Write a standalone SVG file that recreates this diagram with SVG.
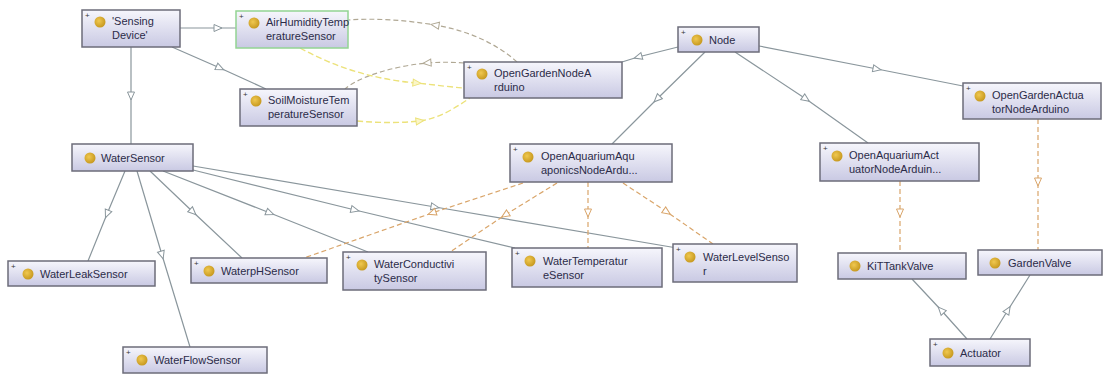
<svg xmlns="http://www.w3.org/2000/svg" width="1108" height="376" viewBox="0 0 1108 376">
<defs>
<linearGradient id="boxg" x1="0" y1="0" x2="0" y2="1">
<stop offset="0" stop-color="#f6f6fc"/>
<stop offset="1" stop-color="#c9c9e3"/>
</linearGradient>
<radialGradient id="dotg" cx="0.4" cy="0.4" r="0.6">
<stop offset="0" stop-color="#f0c850"/>
<stop offset="1" stop-color="#c89a20"/>
</radialGradient>
<marker id="tg" markerUnits="userSpaceOnUse" markerWidth="12" markerHeight="12" viewBox="-1 -6 12 12" refX="4" refY="0" orient="auto">
<path d="M0,-3.5 L8,0 L0,3.5 Z" fill="#fff" stroke="#8a969c" stroke-width="1"/>
</marker>
<marker id="to" markerUnits="userSpaceOnUse" markerWidth="12" markerHeight="12" viewBox="-1 -6 12 12" refX="4" refY="0" orient="auto">
<path d="M0,-3.5 L8,0 L0,3.5 Z" fill="#fff" stroke="#d9a56a" stroke-width="1"/>
</marker>
<marker id="tt" markerUnits="userSpaceOnUse" markerWidth="12" markerHeight="12" viewBox="-1 -6 12 12" refX="4" refY="0" orient="auto">
<path d="M0,-3.5 L8,0 L0,3.5 Z" fill="#fff" stroke="#b0a894" stroke-width="1"/>
</marker>
<marker id="ty" markerUnits="userSpaceOnUse" markerWidth="12" markerHeight="12" viewBox="-1 -6 12 12" refX="4" refY="0" orient="auto">
<path d="M0,-3.5 L8,0 L0,3.5 Z" fill="#fbf6c8" stroke="#ece27a" stroke-width="1"/>
</marker>
</defs>
<style>
.box{fill:url(#boxg);stroke:#6c6c7a;stroke-width:1.5}
.green{stroke:#93d493}
.dot{fill:url(#dotg)}
.lbl{font-family:"Liberation Sans",Arial,sans-serif;font-size:11px;fill:#2b2b48}
.pl{font-family:"Liberation Sans",Arial,sans-serif;font-size:8px;fill:#333}
.sub{fill:none;stroke:#8a969c;stroke-width:1.2;marker-mid:url(#tg)}
.obj{fill:none;stroke:#d9a56a;stroke-width:1.2;stroke-dasharray:5 3;marker-mid:url(#to)}
.tan{fill:none;stroke:#b0a894;stroke-width:1.2;stroke-dasharray:5 3;marker-mid:url(#tt)}
.yel{fill:none;stroke:#ece27a;stroke-width:1.4;stroke-dasharray:6 3;marker-mid:url(#ty)}
</style>
<rect width="1108" height="376" fill="#fff"/>
<g id="connectors">
<path class="sub" d="M180,28 L218,28 L236,28"/>
<path class="sub" d="M172,47 L220,68 L266,89"/>
<path class="sub" d="M131,47 L131,96 L131,144"/>
<path class="sub" d="M125,171 L107,214 L88,261"/>
<path class="sub" d="M137,171 L162,255 L190,347"/>
<path class="sub" d="M150,171 L193,212 L242,258"/>
<path class="sub" d="M163,171 L270,213 L368,252"/>
<path class="sub" d="M193,170 L355,210 L515,248"/>
<path class="sub" d="M193,166 L435,207 L677,248"/>
<path class="sub" d="M678,47 L638,57 L622,62"/>
<path class="sub" d="M705,52 L657,99 L612,144"/>
<path class="sub" d="M735,52 L806,99 L868,143"/>
<path class="sub" d="M759,46 L877,69 L963,86"/>
<path class="sub" d="M967,339 L941,310 L912,279"/>
<path class="sub" d="M990,339 L1008,310 L1030,275"/>
<path class="obj" d="M1038,119 L1038,182 L1038,250"/>
<path class="obj" d="M900,181 L900,213 L900,253"/>
<path class="obj" d="M523,183 L432,213 L304,258"/>
<path class="obj" d="M557,183 L505,215 L450,252"/>
<path class="obj" d="M588,182 L588,213 L588,248"/>
<path class="obj" d="M623,183 L667,212 L713,244"/>
<path class="tan" d="M517,62 C495,42 465,30 435,25 C405,20 375,18 348,20"/>
<path class="tan" d="M464,63 C450,62 440,62 427,63 C395,66 360,76 345,89"/>
<path class="yel" d="M300,48 C340,70 380,80 417,83 C435,85 450,87 464,88"/>
<path class="yel" d="M357,121 C380,123 400,123 420,121 C440,118 455,108 470,98"/>
</g>
<g id="n-sensing-device">
<rect class="box" x="82" y="10" width="98" height="37"/>
<text class="pl" x="85" y="18">+</text>
<circle class="dot" cx="100" cy="22" r="5.5"/>
<text class="lbl" x="112" y="25">'Sensing</text>
<text class="lbl" x="112" y="39">Device'</text>
</g>
<g id="n-airhumidity">
<rect class="box green" x="236" y="11" width="112" height="37"/>
<text class="pl" x="239" y="19">+</text>
<circle class="dot" cx="254" cy="23" r="5.5"/>
<text class="lbl" x="266" y="26">AirHumidityTemp</text>
<text class="lbl" x="266" y="40">eratureSensor</text>
</g>
<g id="n-soilmoisture">
<rect class="box" x="240" y="89" width="117" height="37"/>
<text class="pl" x="243" y="97">+</text>
<circle class="dot" cx="256" cy="101" r="5.5"/>
<text class="lbl" x="268" y="104">SoilMoistureTem</text>
<text class="lbl" x="268" y="118">peratureSensor</text>
</g>
<g id="n-opengardennode">
<rect class="box" x="464" y="62" width="158" height="36"/>
<text class="pl" x="467" y="70">+</text>
<circle class="dot" cx="482" cy="74" r="5.5"/>
<text class="lbl" x="494" y="77">OpenGardenNodeA</text>
<text class="lbl" x="494" y="91">rduino</text>
</g>
<g id="n-node">
<rect class="box" x="678" y="27" width="81" height="25"/>
<text class="pl" x="681" y="35">+</text>
<circle class="dot" cx="697" cy="40" r="5.5"/>
<text class="lbl" x="709" y="44">Node</text>
</g>
<g id="n-opengardenactuator">
<rect class="box" x="963" y="83" width="138" height="36"/>
<text class="pl" x="966" y="91">+</text>
<circle class="dot" cx="980" cy="96" r="5.5"/>
<text class="lbl" x="992" y="99">OpenGardenActua</text>
<text class="lbl" x="992" y="113">torNodeArduino</text>
</g>
<g id="n-watersensor">
<rect class="box" x="72" y="144" width="121" height="27"/>
<circle class="dot" cx="90" cy="158" r="5.5"/>
<text class="lbl" x="101" y="162">WaterSensor</text>
</g>
<g id="n-aquaponics">
<rect class="box" x="510" y="144" width="162" height="38"/>
<text class="pl" x="513" y="152">+</text>
<circle class="dot" cx="528" cy="157" r="5.5"/>
<text class="lbl" x="541" y="160">OpenAquariumAqu</text>
<text class="lbl" x="541" y="174">aponicsNodeArdu...</text>
</g>
<g id="n-aquariumactuator">
<rect class="box" x="820" y="143" width="159" height="38"/>
<text class="pl" x="823" y="151">+</text>
<circle class="dot" cx="837" cy="156" r="5.5"/>
<text class="lbl" x="849" y="159">OpenAquariumAct</text>
<text class="lbl" x="849" y="173">uatorNodeArduin...</text>
</g>
<g id="n-waterleak">
<rect class="box" x="8" y="261" width="147" height="25"/>
<text class="pl" x="11" y="269">+</text>
<circle class="dot" cx="28" cy="274" r="5.5"/>
<text class="lbl" x="40" y="278">WaterLeakSensor</text>
</g>
<g id="n-waterph">
<rect class="box" x="191" y="258" width="136" height="25"/>
<text class="pl" x="194" y="266">+</text>
<circle class="dot" cx="209" cy="271" r="5.5"/>
<text class="lbl" x="221" y="275">WaterpHSensor</text>
</g>
<g id="n-waterconductivity">
<rect class="box" x="343" y="252" width="143" height="38"/>
<text class="pl" x="346" y="260">+</text>
<circle class="dot" cx="362" cy="265" r="5.5"/>
<text class="lbl" x="374" y="268">WaterConductivi</text>
<text class="lbl" x="374" y="282">tySensor</text>
</g>
<g id="n-watertemperature">
<rect class="box" x="512" y="248" width="150" height="39"/>
<text class="pl" x="515" y="256">+</text>
<circle class="dot" cx="530" cy="261" r="5.5"/>
<text class="lbl" x="543" y="265">WaterTemperatur</text>
<text class="lbl" x="543" y="279">eSensor</text>
</g>
<g id="n-waterlevel">
<rect class="box" x="673" y="244" width="124" height="38"/>
<text class="pl" x="676" y="252">+</text>
<circle class="dot" cx="690" cy="257" r="5.5"/>
<text class="lbl" x="703" y="261">WaterLevelSenso</text>
<text class="lbl" x="703" y="275">r</text>
</g>
<g id="n-kittankvalve">
<rect class="box" x="838" y="253" width="128" height="26"/>
<circle class="dot" cx="855" cy="266" r="5.5"/>
<text class="lbl" x="867" y="270">KiTTankValve</text>
</g>
<g id="n-gardenvalve">
<rect class="box" x="978" y="250" width="124" height="25"/>
<circle class="dot" cx="995" cy="263" r="5.5"/>
<text class="lbl" x="1008" y="267">GardenValve</text>
</g>
<g id="n-actuator">
<rect class="box" x="930" y="339" width="100" height="27"/>
<text class="pl" x="933" y="347">+</text>
<circle class="dot" cx="948" cy="353" r="5.5"/>
<text class="lbl" x="960" y="357">Actuator</text>
</g>
<g id="n-waterflow">
<rect class="box" x="123" y="347" width="144" height="26"/>
<text class="pl" x="126" y="355">+</text>
<circle class="dot" cx="142" cy="360" r="5.5"/>
<text class="lbl" x="154" y="364">WaterFlowSensor</text>
</g>
</svg>
